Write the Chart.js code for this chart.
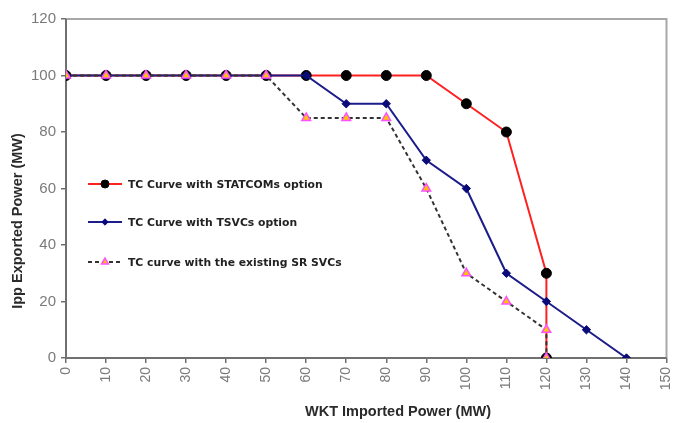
<!DOCTYPE html>
<html><head><meta charset="utf-8">
<script src="https://cdn.jsdelivr.net/npm/chart.js@4"></script>
<style>html,body{margin:0;padding:0;background:#fff}#wrap{width:673px;height:423px}</style>
</head><body><div id="wrap"><canvas id="c" width="673" height="423"></canvas></div>
<script>
const xStatcom = [0,10,20,30,40,50,60,70,80,90,100,110,120,120];
const yStatcom = [100,100,100,100,100,100,100,100,100,100,90,80,30,0];
const xTsvc = [0,10,20,30,40,50,60,70,80,90,100,110,120,130,140];
const yTsvc = [100,100,100,100,100,100,100,90,90,70,60,30,20,10,0];
const xSr = [0,10,20,30,40,50,60,70,80,90,100,110,120,120];
const ySr = [100,100,100,100,100,100,85,85,85,60,30,20,10,0];
const labels = ["TC Curve with STATCOMs option","TC Curve with TSVCs option","TC curve with the existing SR SVCs"];
const xTicks = [0,10,20,30,40,50,60,70,80,90,100,110,120,130,140,150];
const yTicks = [0,20,40,60,80,100,120];
const xTitle = "WKT Imported Power (MW)";
const yTitle = "Ipp Exported Power (MW)";

const pts = (xs, ys) => xs.map((x,i)=>({x, y: ys[i]}));
const FONT = "'Liberation Sans', Arial, sans-serif";

const datasets = [
  {label: labels[0], data: pts(xStatcom,yStatcom), borderColor:'#ff2020', borderWidth:2,
   pointStyle:'circle', pointRadius:5, pointBackgroundColor:'#000', pointBorderColor:'#000', pointBorderWidth:1, order:3},
  {label: labels[1], data: pts(xTsvc,yTsvc), borderColor:'#1c1c8a', borderWidth:2,
   pointStyle:'rectRot', pointRadius:4.2, pointBackgroundColor:'#0a0a78', pointBorderColor:'#0a0a78', pointBorderWidth:1, order:2},
  {label: labels[2], data: pts(xSr,ySr), borderColor:'#333', borderWidth:2, borderDash:[4,3],
   pointStyle:'triangle', pointRadius:5, pointBackgroundColor:'#ffc400', pointBorderColor:'#ff50ff', pointBorderWidth:1.5, order:1}
];

const frame = {
  id:'frame',
  beforeDatasetsDraw(chart){
    const {ctx, chartArea:a} = chart;
    ctx.save();
    ctx.strokeStyle='#a8a8a8'; ctx.lineWidth=2;
    ctx.beginPath();
    ctx.moveTo(a.left,a.top); ctx.lineTo(a.right,a.top); ctx.lineTo(a.right,a.bottom);
    ctx.stroke();
    ctx.strokeStyle='#707070'; ctx.lineWidth=2;
    ctx.beginPath();
    ctx.moveTo(a.left,a.top); ctx.lineTo(a.left,a.bottom); ctx.lineTo(a.right,a.bottom);
    ctx.stroke();
    ctx.restore();
  },
  afterDraw(chart){
    const {ctx} = chart;
    const ys = [184,222,262];
    ctx.save();
    chart.data.datasets.forEach((ds,i)=>{
      const y = ys[i];
      ctx.strokeStyle = ds.borderColor; ctx.lineWidth = 2;
      ctx.setLineDash(ds.borderDash || []);
      ctx.beginPath(); ctx.moveTo(88,y); ctx.lineTo(122,y); ctx.stroke();
      ctx.setLineDash([]);
      ctx.fillStyle = ds.pointBackgroundColor; ctx.strokeStyle = ds.pointBorderColor;
      ctx.lineWidth = ds.pointBorderWidth||1;
      Chart.helpers.drawPoint(ctx, {pointStyle: ds.pointStyle, radius: ds.pointRadius-1, borderWidth: ds.pointBorderWidth||1, rotation:0}, 105, y);
      ctx.fillStyle = '#222';
      ctx.font = 'bold 10.8px "DejaVu Sans", sans-serif';
      ctx.textBaseline = 'middle';
      ctx.fillText(ds.label, 128, y+1);
    });
    // axis titles
    ctx.fillStyle = '#2a2a2a';
    ctx.font = 'bold 14.5px ' + FONT;
    ctx.textAlign = 'center'; ctx.textBaseline = 'middle';
    ctx.fillText(xTitle, 398, 412);
    ctx.translate(18, 221);
    ctx.rotate(-Math.PI/2);
    ctx.fillText(yTitle, 0, 0);
    ctx.restore();
  }
};

new Chart(document.getElementById('c'), {
  type:'line',
  data:{datasets},
  options:{
    responsive:false, animation:false,
    layout:{padding:{top:19,right:5,left:0,bottom:0}},
    plugins:{legend:{display:false}, tooltip:{enabled:false}},
    scales:{
      x:{type:'linear', min:0, max:150,
        afterBuildTicks(s){ s.ticks = xTicks.map(v=>({value:v})); },
        afterFit(s){ s.height = 65; s.paddingLeft = 0; s.paddingRight = 0; },
        grid:{drawOnChartArea:false, drawTicks:true, tickLength:5, color:'#707070', lineWidth:1.5},
        border:{display:false},
        ticks:{minRotation:90, maxRotation:90, color:'#7a7a7a', font:{family:FONT, size:14}, padding:4},
      },
      y:{min:0, max:120,
        afterBuildTicks(s){ s.ticks = yTicks.map(v=>({value:v})); },
        afterFit(s){ s.width = 66; s.paddingTop = 0; s.paddingBottom = 0; },
        grid:{drawOnChartArea:false, drawTicks:true, tickLength:5, color:'#707070', lineWidth:1.5},
        border:{display:false},
        ticks:{color:'#7a7a7a', font:{family:FONT, size:15}, padding:5},
      }
    }
  },
  plugins:[frame]
});
</script></body></html>
